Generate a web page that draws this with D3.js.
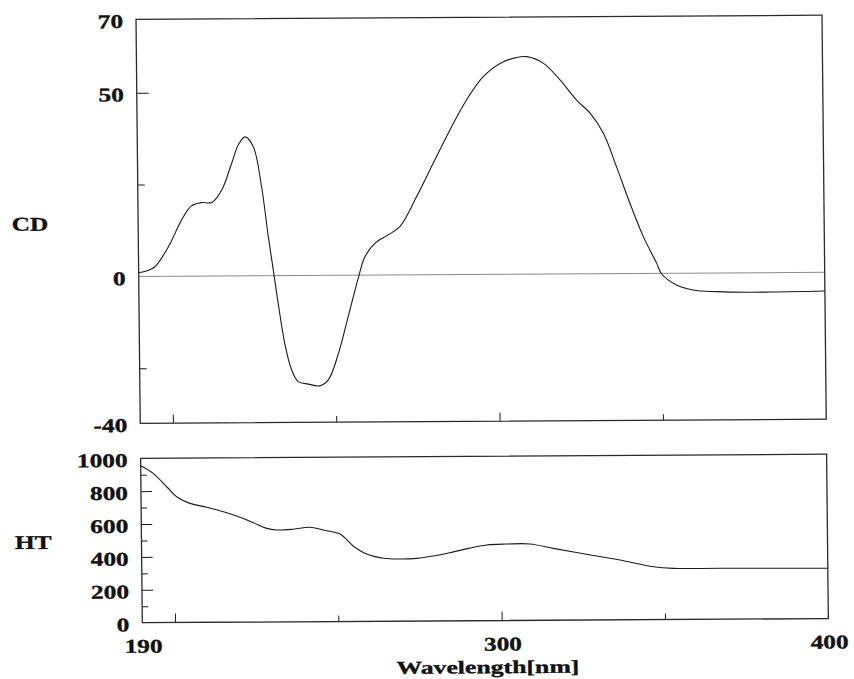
<!DOCTYPE html>
<html>
<head>
<meta charset="utf-8">
<script src="https://cdn.jsdelivr.net/npm/d3@7"></script>
<style>
  html, body { margin: 0; padding: 0; background: #fff; }
  svg { display: block; }
  text { font-family: "Liberation Serif", "Times New Roman", serif; font-weight: bold; fill: #111;
         stroke: #111; stroke-width: 0.35; }
</style>
</head>
<body>
<script>
// CD spectrum (mdeg) against wavelength (nm)
const cdWavelengths = [190, 192.6, 195, 199.2, 203.3, 206.4, 209.5, 212.6, 215.7, 218.8, 220.9, 223, 225.5,
  227.9, 229.8, 231.5, 232.6, 234.6, 236.5, 238.5, 241.6, 245.1, 247.7, 250.9, 254, 257.4, 259.3, 262.4,
  266.5, 270.1, 275.3, 280.5, 285.7, 290.9, 296.1, 301.3, 306.4, 309.5, 314.5, 319.6, 324.6, 328.7, 332.7,
  336.6, 340.6, 344.6, 348.6, 350.1, 354.6, 359.7, 366.9, 377.1, 400];
const cdValues = [1.0, 1.5, 2.6, 8.0, 15.3, 19.1, 20.0, 20.0, 23.4, 30.6, 35.6, 37.8, 35.1,
  24.2, 10.6, -0.3, -7.5, -19.0, -25.7, -28.9, -29.6, -30.1, -28.5, -21.3, -11.3, -0.2, 5.0, 8.6,
  10.9, 13.1, 21.2, 30.3, 39.3, 47.5, 53.8, 57.4, 59.0, 59.2, 57.4, 52.8, 47.3, 43.7, 38.2,
  29.1, 19.1, 10.0, 2.7, -0.2, -3.2, -4.6, -5.1, -5.3, -5.1];

// HT voltage (V) against wavelength (nm)
const htWavelengths = [190, 193.8, 197.9, 200.9, 205, 210.1, 215.2, 219.2, 224.3, 228.4, 231.4, 236.5,
  241.6, 245.7, 250.8, 254.8, 258.9, 264, 269.1, 274.2, 279.3, 284, 290, 295.6, 301.7, 308.9, 316,
  326.2, 336.4, 346.6, 352.7, 367, 400];
const htValues = [955, 908, 826, 765, 724, 700, 672, 645, 604, 569, 559, 563,
  574, 557, 532, 459, 409, 383, 378, 381, 395, 413, 440, 460, 465, 465, 437,
  400, 364, 322, 311, 310, 306];

// axis ticks and labels
const xTickLabels = [190, 300, 400];
const xMajorTicks = [200, 300];
const xMinorTicks = [250, 350];
const cdTickLabels = [70, 50, 0, -40];
const cdMajorTicks = [50];
const cdMinorTicks = [25, -25];
const htTickLabels = [1000, 800, 600, 400, 200, 0];
const htMajorTicks = [200, 400, 600, 800];
const htMinorTicks = [100, 300, 500, 700, 900];

const W = 686;          // plot width
const cdH = 404;        // CD panel height
const htTop = 439, htBottom = 603.4;

const svg = d3.select("body").append("svg").attr("width", 854).attr("height", 679);

// the whole plot frame is drawn slightly askew
const frame = svg.append("g").attr("transform", "matrix(1,-0.006,0.0105,1,136,19.3)");

const x = d3.scaleLinear().domain([190, 400]).range([0, W]);
const yCD = d3.scaleLinear().domain([-40, 70]).range([cdH, 0]);
const yHT = d3.scaleLinear().domain([0, 1000]).range([htBottom, htTop]);

const ink = "#1a1a1a";

function tickAxis(g, axis) {
  g.call(axis);
  g.select(".domain").remove();
  g.selectAll(".tick line").attr("stroke", ink).attr("stroke-width", 1);
}

// ---- CD panel ----
const cd = frame.append("g");
cd.append("line")
  .attr("x1", x(190)).attr("x2", x(400))
  .attr("y1", yCD(0)).attr("y2", yCD(0))
  .attr("stroke", "#8c8c8c").attr("stroke-width", 1);

cd.append("g").call(g => tickAxis(g, d3.axisLeft(yCD).tickValues(cdMajorTicks).tickSize(-12).tickFormat("")));
cd.append("g").call(g => tickAxis(g, d3.axisLeft(yCD).tickValues(cdMinorTicks).tickSize(-7).tickFormat("")));
cd.append("g").attr("transform", `translate(0,${cdH})`)
  .call(g => tickAxis(g, d3.axisBottom(x).tickValues(xMajorTicks).tickSize(-8.5).tickFormat("")));
cd.append("g").attr("transform", `translate(0,${cdH})`)
  .call(g => tickAxis(g, d3.axisBottom(x).tickValues(xMinorTicks).tickSize(-6).tickFormat("")));

const cdLine = d3.line().x(d => x(d[0])).y(d => yCD(d[1])).curve(d3.curveCatmullRom.alpha(0.5));
cd.append("path")
  .datum(cdWavelengths.map((w, i) => [w, cdValues[i]]))
  .attr("d", cdLine)
  .attr("fill", "none").attr("stroke", ink).attr("stroke-width", 1.1);

cd.append("rect")
  .attr("x", 0).attr("y", 0).attr("width", W).attr("height", cdH)
  .attr("fill", "none").attr("stroke", "#2a2a2a").attr("stroke-width", 1.3);

cd.selectAll("text.ylab").data(cdTickLabels).join("text")
  .attr("class", "ylab")
  .attr("text-anchor", "end")
  .attr("font-size", 19.5)
  .attr("transform", d => `translate(-13,${yCD(d) + 8.6}) scale(1.3,1)`)
  .text(d => d);

cd.append("text")
  .attr("font-size", 19.5)
  .attr("transform", `translate(-126.5,210.7) scale(1.3,1)`)
  .text("CD");

// ---- HT panel ----
const ht = frame.append("g");
ht.append("g").call(g => tickAxis(g, d3.axisLeft(yHT).tickValues(htMajorTicks).tickSize(-11).tickFormat("")));
ht.append("g").call(g => tickAxis(g, d3.axisLeft(yHT).tickValues(htMinorTicks).tickSize(-6).tickFormat("")));
ht.append("g").attr("transform", `translate(0,${htBottom})`)
  .call(g => tickAxis(g, d3.axisBottom(x).tickValues(xMajorTicks).tickSize(-9).tickFormat("")));
ht.append("g").attr("transform", `translate(0,${htBottom})`)
  .call(g => tickAxis(g, d3.axisBottom(x).tickValues(xMinorTicks).tickSize(-6).tickFormat("")));

const htLine = d3.line().x(d => x(d[0])).y(d => yHT(d[1])).curve(d3.curveCatmullRom.alpha(0.5));
ht.append("path")
  .datum(htWavelengths.map((w, i) => [w, htValues[i]]))
  .attr("d", htLine)
  .attr("fill", "none").attr("stroke", ink).attr("stroke-width", 1.1);

ht.append("rect")
  .attr("x", 0).attr("y", htTop).attr("width", W).attr("height", htBottom - htTop)
  .attr("fill", "none").attr("stroke", "#2a2a2a").attr("stroke-width", 1.3);

ht.selectAll("text.ylab").data(htTickLabels).join("text")
  .attr("class", "ylab")
  .attr("text-anchor", "end")
  .attr("font-size", 19.5)
  .attr("transform", d => `translate(-13,${yHT(d) + 8.6}) scale(1.3,1)`)
  .text(d => d);

ht.append("text")
  .attr("font-size", 19.5)
  .attr("transform", `translate(-126.5,529) scale(1.3,1)`)
  .text("HT");

// ---- wavelength axis labels ----
frame.selectAll("text.xlab").data(xTickLabels).join("text")
  .attr("class", "xlab")
  .attr("text-anchor", "middle")
  .attr("font-size", 19.5)
  .attr("transform", d => `translate(${x(d) + 1},${htBottom + 30}) scale(1.3,1)`)
  .text(d => d);

frame.append("text")
  .attr("text-anchor", "middle")
  .attr("font-size", 18)
  .attr("transform", `translate(${W / 2 + 2},656) scale(1.43,1)`)
  .text("Wavelength[nm]");
</script>
</body>
</html>
